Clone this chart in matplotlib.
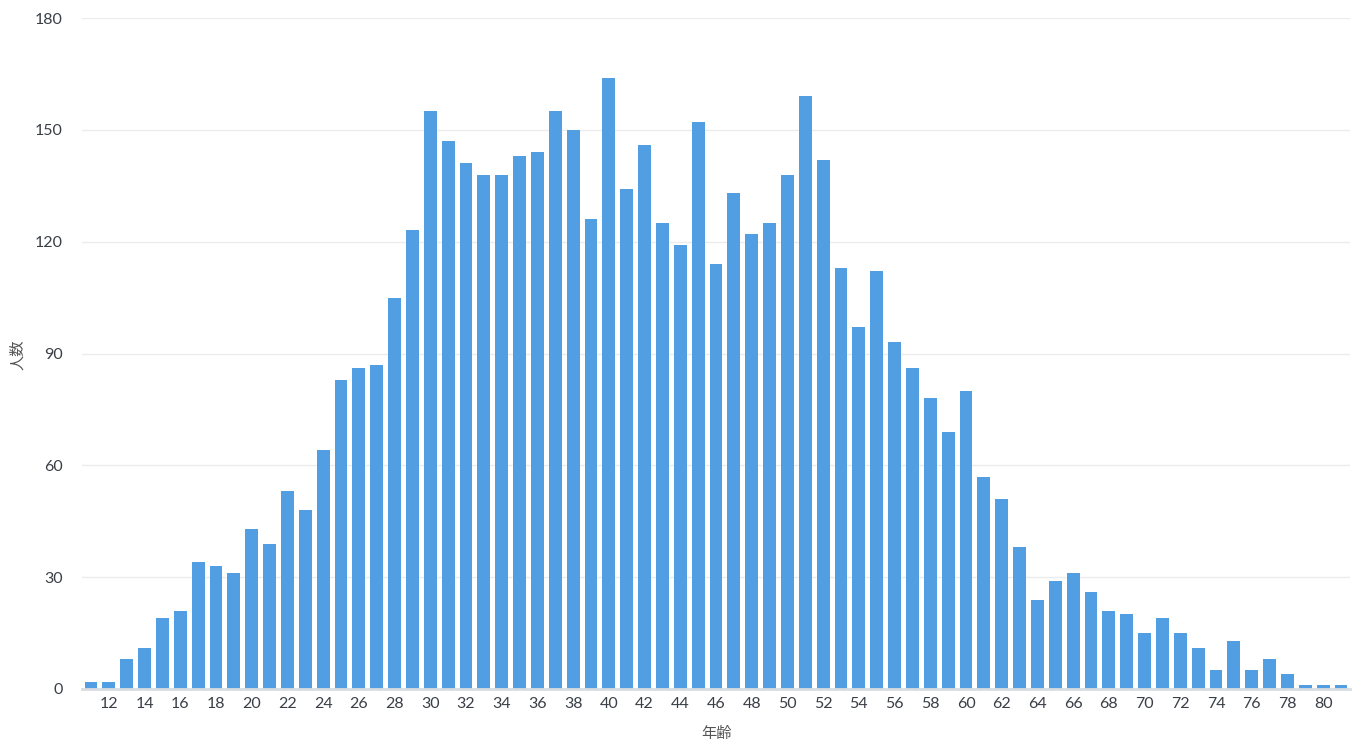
import numpy as np
import matplotlib.pyplot as plt

ages = list(range(11, 82))
counts = [2, 2, 8, 11, 19, 21, 34, 33, 31, 43,
          39, 53, 48, 64, 83, 86, 87, 105, 123, 155,
          147, 141, 138, 138, 143, 144, 155, 150, 126, 164,
          134, 146, 125, 119, 152, 114, 133, 122, 125, 138,
          159, 142, 113, 97, 112, 93, 86, 78, 69, 80,
          57, 51, 38, 24, 29, 31, 26, 21, 20, 15,
          19, 15, 11, 5, 13, 5, 8, 4, 1, 1,
          1]
y_ticks = [0, 30, 60, 90, 120, 150, 180]
x_ticks = list(range(12, 82, 2))

plt.rcParams['font.family'] = ['Lato', 'Noto Sans CJK JP', 'DejaVu Sans']

fig = plt.figure(figsize=(13.6, 7.48), dpi=100)
ax = fig.add_axes([82 / 1360, 1 - 689 / 748, 1268 / 1360, 671 / 748])

ax.bar(ages, counts, width=0.72, color='#519ee3', zorder=3)

ax.set_xlim(10.5, 81.5)
ax.set_ylim(0, 180)
ax.set_yticks(y_ticks)
ax.set_xticks(x_ticks)
ax.tick_params(axis='both', length=0, labelsize=11.5, labelcolor='#3a3f47')
ax.tick_params(axis='y', pad=14)
ax.tick_params(axis='x', pad=6)

ax.grid(axis='y', color='#ececec', linewidth=1, zorder=0)
for s in ['top', 'right', 'left']:
    ax.spines[s].set_visible(False)
ax.spines['bottom'].set_color('#d9dce0')
ax.spines['bottom'].set_linewidth(2)
ax.spines['bottom'].set_zorder(4)

ax.set_xlabel('年齢', fontsize=11, color='#555555',
              family=['Noto Sans CJK JP', 'DejaVu Sans'])
ax.set_ylabel('人数', fontsize=11, color='#555555',
              family=['Noto Sans CJK JP', 'DejaVu Sans'])
ax.xaxis.set_label_coords((716 - 82) / 1268, -(725 - 689) / 671)
ax.yaxis.set_label_coords((26 - 82) / 1268, (689 - 355) / 671)

fig.savefig('out.png', dpi=100, facecolor='white')
